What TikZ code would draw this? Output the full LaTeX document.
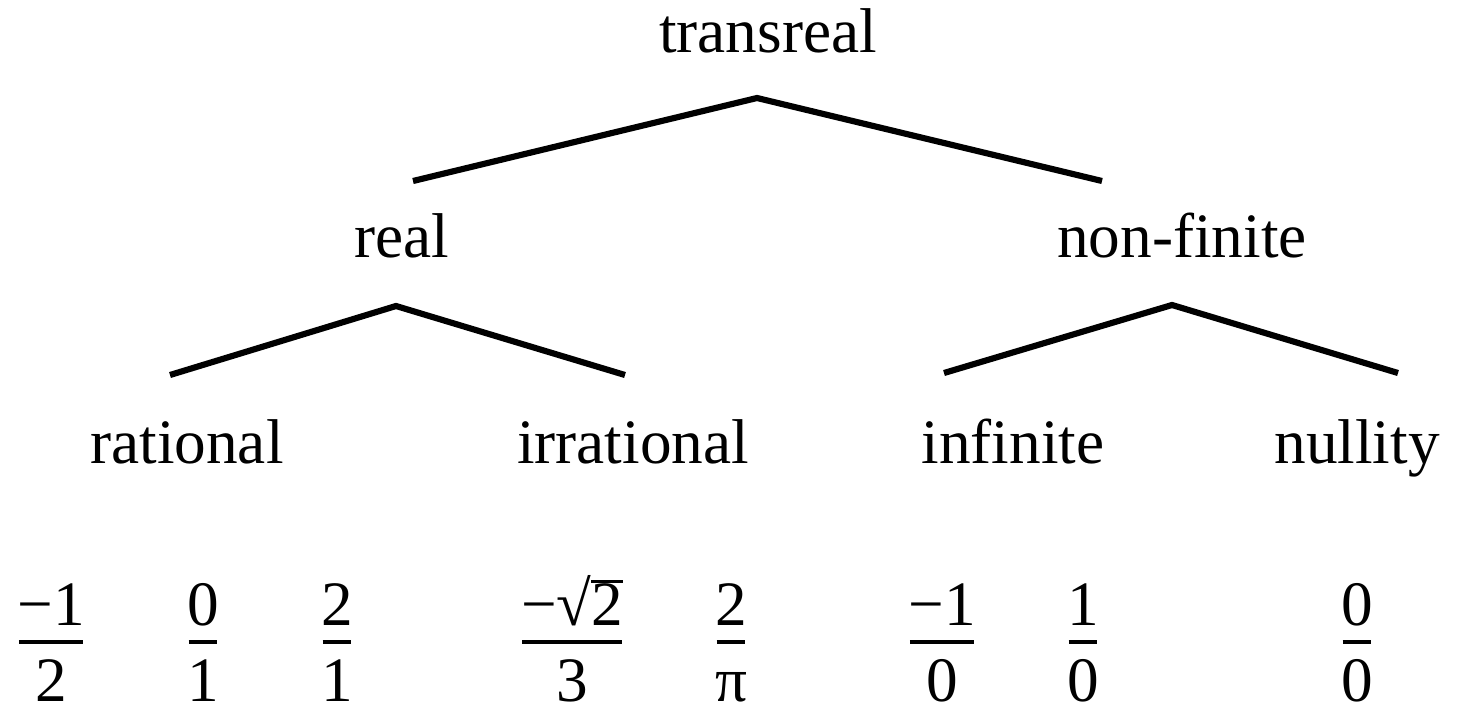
\documentclass[tikz,border=0pt]{standalone}
\usepackage{fontspec}
\setmainfont{Liberation Serif}

% one fraction: numerator, denominator and the bar between them
\newcommand{\fracnode}[4]{%
    \node [fracpart] (#1-num) at (#2,625) {#3};
    \node [fracpart] (#1-den) at (#2,701) {#4};
    \coordinate (#1-bar) at (#2,642);
    \draw [fracbar] (#1-num.west |- #1-bar) -- (#1-num.east |- #1-bar);
}

\begin{document}
\begin{tikzpicture}[x=0.02cm, y=-0.02cm]
    \tikzstyle{term} = [inner sep=0pt, anchor=base, font=\fontsize{36}{43}\selectfont]
    \tikzstyle{fracpart} = [term]
    \tikzstyle{branch} = [draw, line width=3.5pt]
    \tikzstyle{fracbar} = [draw, line width=2.8pt, shorten <=1pt, shorten >=1pt]

    \useasboundingbox (0,0) rectangle (1459,706);

    \node [term] (transreal) at (768,53) {transreal};
    \node [term] (real) at (402,257) {real};
    \node [term] (nonfinite) at (1182,257) {non-finite};
    \node [term] (rational) at (187,463) {rational};
    \node [term] (irrational) at (633,463) {irrational};
    \node [term] (infinite) at (1013,463) {infinite};
    \node [term] (nullity) at (1357,463) {nullity};

    % joints of the tree
    \coordinate (transreal-foot) at (757,98);
    \coordinate (real-head) at (413,181);
    \coordinate (nonfinite-head) at (1102,181);
    \coordinate (real-foot) at (396,306);
    \coordinate (rational-head) at (170,375);
    \coordinate (irrational-head) at (625,375);
    \coordinate (nonfinite-foot) at (1172,305);
    \coordinate (infinite-head) at (944,373);
    \coordinate (nullity-head) at (1398,373);

    \path [branch] (real-head) -- (transreal-foot) -- (nonfinite-head);
    \path [branch] (rational-head) -- (real-foot) -- (irrational-head);
    \path [branch] (infinite-head) -- (nonfinite-foot) -- (nullity-head);

    \fracnode{ratA}{51}{−1}{2}
    \fracnode{ratB}{203}{0}{1}
    \fracnode{ratC}{337}{2}{1}
    \fracnode{irrA}{572}{−√\rlap{\rule[0.66em]{0.5em}{0.05em}}2}{3}
    \fracnode{irrB}{731}{2}{π}
    \fracnode{infA}{942}{−1}{0}
    \fracnode{infB}{1083}{1}{0}
    \fracnode{nulA}{1357}{0}{0}
\end{tikzpicture}
\end{document}
